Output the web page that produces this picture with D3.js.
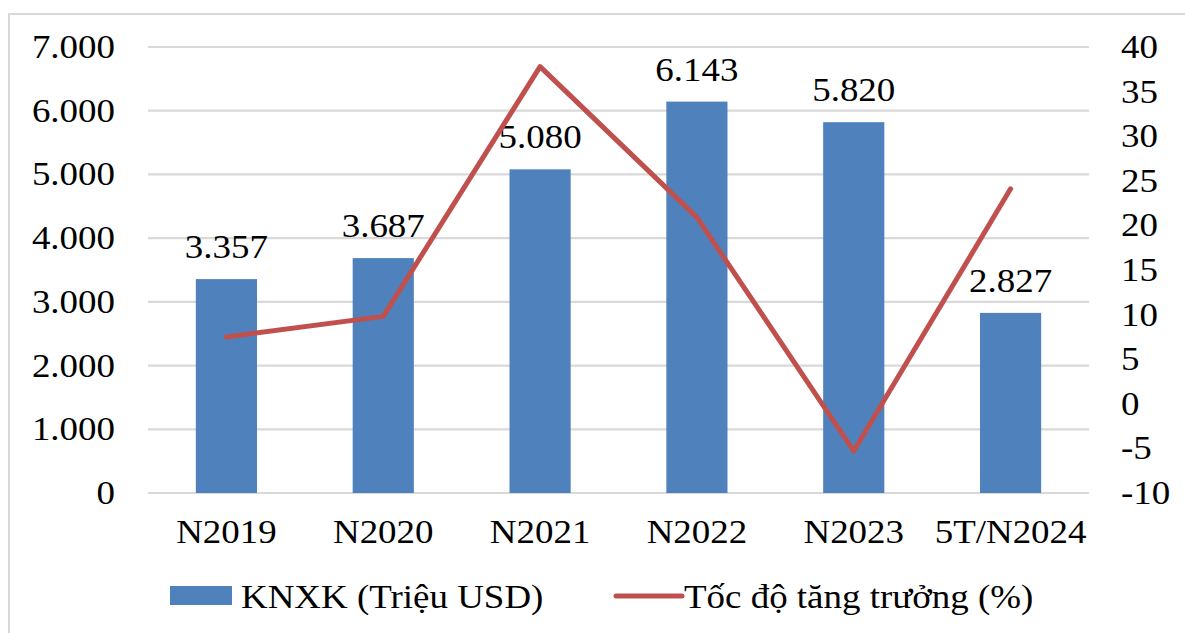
<!DOCTYPE html>
<html>
<head>
<meta charset="utf-8">
<script src="https://cdn.jsdelivr.net/npm/d3@7"></script>
</head>
<body style="margin:0">
<svg id="chart" width="1185" height="633" style="display:block;background:#fff;font-family:'Liberation Serif'"></svg>
<script>
// Export value (million USD) and growth rate (%) by period
const categories = ["N2019", "N2020", "N2021", "N2022", "N2023", "5T/N2024"];
const exportValues = [3357, 3687, 5080, 6143, 5820, 2827];
const growthRates = [7.5, 9.8, 37.8, 20.9, -5.3, 24.1];
const leftTicks = [0, 1000, 2000, 3000, 4000, 5000, 6000, 7000];
const rightTicks = [-10, -5, 0, 5, 10, 15, 20, 25, 30, 35, 40];
const seriesNames = ["KNXK (Triệu USD)", "Tốc độ tăng trưởng (%)"];

const BAR_COLOR = "#4F81BD";
const LINE_COLOR = "#C0504D";
const GRID_COLOR = "#D9D9D9";
const FONT_SIZE = 33;
const STRETCH = 1.12;

const svg = d3.select("#chart");

// Outer frame
svg.append("rect")
  .attr("x", 9).attr("y", 14)
  .attr("width", 1200).attr("height", 700)
  .attr("fill", "none")
  .attr("stroke", GRID_COLOR)
  .attr("stroke-width", 2);

const plot = { left: 148, right: 1089, top: 47, bottom: 493 };

const x = d3.scaleBand().domain(categories).range([plot.left, plot.right]).padding(0);
const yL = d3.scaleLinear().domain([0, 7000]).range([plot.bottom, plot.top]);
const yR = d3.scaleLinear().domain([-10, 40]).range([plot.bottom, plot.top]);

const fmt = d3.formatLocale({ decimal: ",", thousands: ".", grouping: [3], currency: ["", ""] }).format(",d");

// Horizontally stretched serif text, as the chart's lettering is set wide
function label(g, str, px, py, anchor) {
  g.append("text")
    .attr("transform", `translate(${px},${py}) scale(${STRETCH},1)`)
    .attr("text-anchor", anchor)
    .style("font-family", "\"Liberation Serif\"")
    .style("font-size", FONT_SIZE + "px")
    .style("fill", "#000")
    .text(str);
}

// Gridlines
svg.append("g").selectAll("line")
  .data(leftTicks)
  .join("line")
  .attr("x1", plot.left).attr("x2", plot.right)
  .attr("y1", d => yL(d)).attr("y2", d => yL(d))
  .attr("stroke", GRID_COLOR)
  .attr("stroke-width", 2.2);

// Left axis labels
const gL = svg.append("g");
leftTicks.forEach(t => label(gL, fmt(t), 115, yL(t) + 11, "end"));

// Right axis labels
const gR = svg.append("g");
rightTicks.forEach(t => label(gR, t < 0 ? "-" + Math.abs(t) : String(t), 1121, yR(t) + 11, "start"));

// Bars
const barFrac = 0.39;
const bw = x.bandwidth() * barFrac;
svg.append("g").selectAll("rect")
  .data(exportValues)
  .join("rect")
  .attr("x", (d, i) => x(categories[i]) + (x.bandwidth() - bw) / 2)
  .attr("y", d => yL(d))
  .attr("width", bw)
  .attr("height", d => yL(0) - yL(d))
  .attr("fill", BAR_COLOR);

// Bar value labels
const gV = svg.append("g");
exportValues.forEach((v, i) => {
  label(gV, fmt(v), x(categories[i]) + x.bandwidth() / 2, yL(v) - 21, "middle");
});

// Growth line
const line = d3.line()
  .x((d, i) => x(categories[i]) + x.bandwidth() / 2)
  .y(d => yR(d));
svg.append("path")
  .datum(growthRates)
  .attr("d", line)
  .attr("fill", "none")
  .attr("stroke", LINE_COLOR)
  .attr("stroke-width", 5)
  .attr("stroke-linejoin", "round")
  .attr("stroke-linecap", "round");

// Category labels
const gC = svg.append("g");
categories.forEach(c => label(gC, c, x(c) + x.bandwidth() / 2, 543, "middle"));

// Legend
const lg = svg.append("g");
lg.append("rect")
  .attr("x", 170).attr("y", 586)
  .attr("width", 62).attr("height", 19)
  .attr("fill", BAR_COLOR);
label(lg, seriesNames[0], 241, 608, "start");
lg.append("line")
  .attr("x1", 616).attr("x2", 682)
  .attr("y1", 596).attr("y2", 596)
  .attr("stroke", LINE_COLOR)
  .attr("stroke-width", 5)
  .attr("stroke-linecap", "round");
label(lg, seriesNames[1], 684, 608, "start");
</script>
</body>
</html>
